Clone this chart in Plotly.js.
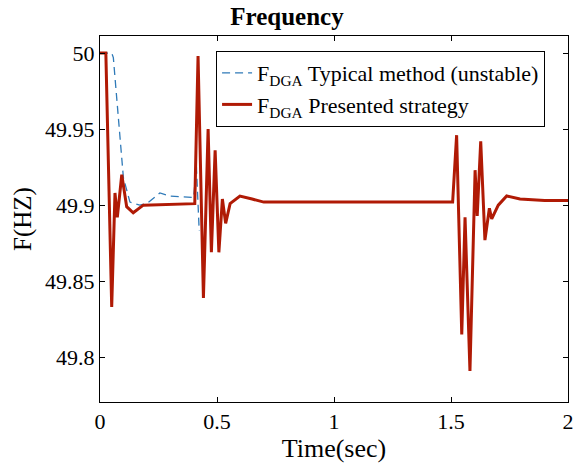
<!DOCTYPE html>
<html>
<head>
<meta charset="utf-8">
<script src="https://cdn.plot.ly/plotly-3.0.1.min.js"></script>
<style>html,body{margin:0;padding:0;background:#fff;}#chart{width:574px;height:470px;}</style>
</head>
<body>
<div id="chart"></div>
<script>
// Typical method (unstable) — blue dashed
var typicalTime = [0, 0.05, 0.057, 0.1, 0.128, 0.17, 0.2, 0.256, 0.3, 0.4, 0.412, 0.424];
var typicalFreq = [50, 50, 49.997, 49.918, 49.902, 49.900, 49.901, 49.908, 49.906, 49.905, 49.925, 49.883];

// Presented strategy — red solid
var presentedTime = [0, 0.025, 0.05, 0.064, 0.074, 0.093, 0.114, 0.142, 0.185, 0.405, 0.419, 0.442, 0.462, 0.476, 0.492, 0.508, 0.523, 0.537, 0.556, 0.598, 0.65, 0.7, 0.8, 1.0, 1.2, 1.4, 1.507, 1.524, 1.546, 1.560, 1.581, 1.603, 1.612, 1.627, 1.645, 1.664, 1.674, 1.702, 1.738, 1.795, 1.9, 2.0];
var presentedFreq = [50, 50, 49.833, 49.908, 49.892, 49.920, 49.899, 49.895, 49.900, 49.901, 49.998, 49.839, 49.950, 49.869, 49.936, 49.869, 49.904, 49.888, 49.901, 49.906, 49.904, 49.902, 49.902, 49.902, 49.902, 49.902, 49.902, 49.946, 49.815, 49.892, 49.791, 49.923, 49.893, 49.942, 49.877, 49.898, 49.891, 49.900, 49.906, 49.904, 49.903, 49.903];

var xTickVals = [0, 0.5, 1, 1.5, 2];
var xTickText = ['0', '0.5', '1', '1.5', '2'];
var yTickVals = [49.8, 49.85, 49.9, 49.95, 50];
var yTickText = ['49.8', '49.85', '49.9', '49.95', '50'];

var serif = '"Liberation Serif", serif';

var traces = [
  {
    x: typicalTime, y: typicalFreq, type: 'scatter', mode: 'lines',
    name: 'F<sub>DGA</sub> Typical method (unstable)',
    line: {color: '#2f7ab8', width: 1.3, dash: '8px,5px'}
  },
  {
    x: presentedTime, y: presentedFreq, type: 'scatter', mode: 'lines',
    name: 'F<sub>DGA</sub> Presented strategy',
    line: {color: '#b01a05', width: 3}
  }
];

var axisCommon = {
  showline: true, linecolor: '#000', linewidth: 1, mirror: 'ticks',
  ticks: 'inside', ticklen: 5, tickcolor: '#000', showgrid: false, zeroline: false,
  tickfont: {family: serif, size: 22, color: '#000'}
};

var layout = {
  width: 574, height: 470,
  margin: {l: 100, r: 6, t: 36, b: 68},
  paper_bgcolor: '#fff', plot_bgcolor: '#fff',
  showlegend: true,
  title: {text: '<b>Frequency</b>', font: {family: serif, size: 25, color: '#000'}, x: 0.5, xanchor: 'center', y: 0.985, yanchor: 'top'},
  xaxis: Object.assign({}, axisCommon, {
    range: [0, 2], tickvals: xTickVals, ticktext: xTickText,
    title: {text: 'Time(sec)', font: {family: serif, size: 26, color: '#000'}, standoff: 2}
  }),
  yaxis: Object.assign({}, axisCommon, {
    range: [49.7706, 50.0112], tickvals: yTickVals, ticktext: yTickText,
    title: {text: 'F(HZ)', font: {family: serif, size: 25, color: '#000'}, standoff: 6}
  }),
  legend: {
    x: 0.248, y: 0.959, xanchor: 'left', yanchor: 'top',
    bgcolor: '#fff', bordercolor: '#000', borderwidth: 1,
    font: {family: serif, size: 22, color: '#000'},
    tracegroupgap: 0, itemwidth: 30
  }
};

Plotly.newPlot('chart', traces, layout, {displayModeBar: false, staticPlot: true});
</script>
</body>
</html>
